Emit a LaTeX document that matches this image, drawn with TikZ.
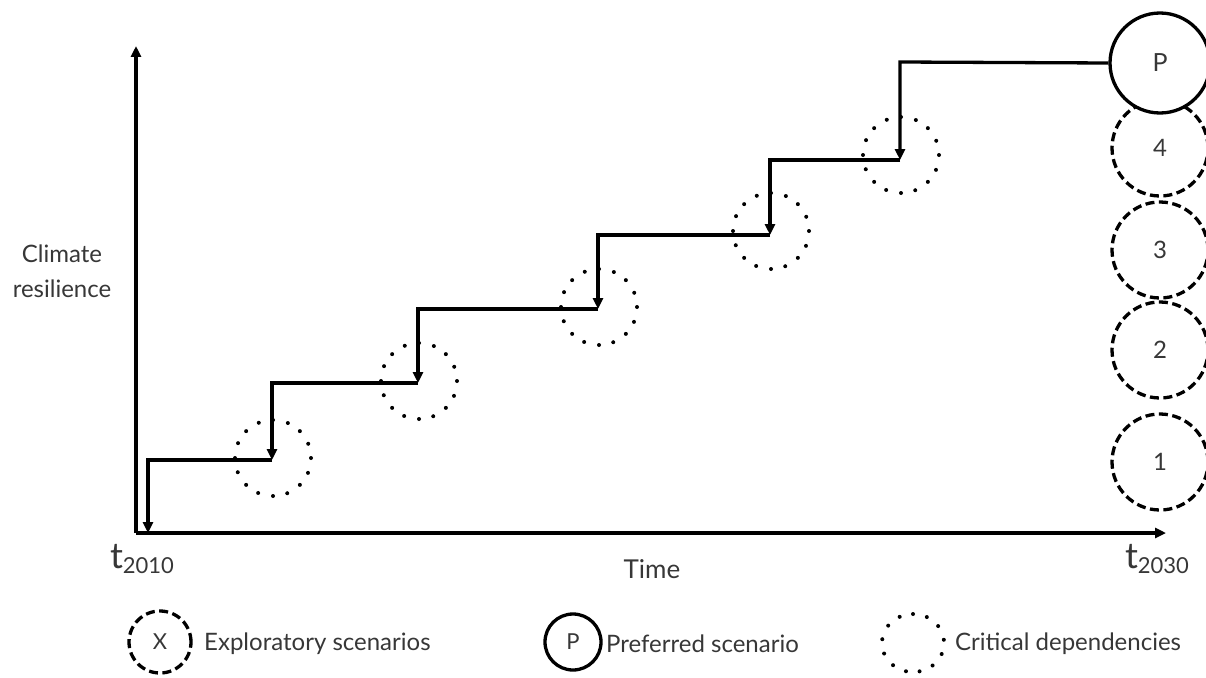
\documentclass[tikz,border=0pt]{standalone}
\usepackage{fontspec}
\setmainfont{Lato}
\usetikzlibrary{arrows.meta,shapes.geometric}
\definecolor{txt}{RGB}{55,55,55}
\begin{document}
\begin{tikzpicture}[x=1pt,y=-1pt,
  tip/.tip={Triangle[length=11pt,width=10pt]},
  axisline/.style={line width=3.6pt,-tip},
  stairline/.style={line width=3.3pt,line join=miter,-tip},
  lbl/.style={text=txt,font=\fontsize{24}{35}\selectfont,inner sep=0pt},
  scen/.style={circle,draw,line width=3.3pt,dash pattern=on 9pt off 4.5pt,
    minimum size=96pt,inner sep=0pt,text=txt,font=\fontsize{24}{24}\selectfont},
  pref/.style={circle,draw,line width=3.3pt,minimum size=100pt,inner sep=0pt,
    text=txt,font=\fontsize{25}{25}\selectfont},
  crit/.style={circle,minimum size=76pt,inner sep=0pt,outer sep=0pt},
  dotr/.style={fill=black}]
\useasboundingbox (0,0) rectangle (1206,677);

% axes
\coordinate (o) at (136,533);
\coordinate (ytop) at (136,46);
\coordinate (xend) at (1166,533);
\draw[axisline] (o) -- (ytop);
\draw[axisline] (o) -- (xend);

% scenario circles on the right
\node[scen] (s1) at (1160,462) {1};
\node[scen] (s2) at (1160,350) {2};
\node[scen] (s3) at (1160,250) {3};
\node[scen] (s4) at (1160,148) {4};
\node[pref,fill=white] (p) at (1160,63) {P};

% staircase corners
\coordinate (c0) at (148,533);
\coordinate (a1) at (148,460); \coordinate (b1) at (272,460);
\coordinate (a2) at (272,383); \coordinate (b2) at (418,383);
\coordinate (a3) at (418,309); \coordinate (b3) at (598,309);
\coordinate (a4) at (598,235); \coordinate (b4) at (770,235);
\coordinate (a5) at (770,160); \coordinate (b5) at (900,160);
\coordinate (a6) at (900,62);

% critical dependencies around the step corners
\node[crit] (d1) at (273,458) {};
\node[crit] (d2) at (419,381) {};
\node[crit] (d3) at (599,307) {};
\node[crit] (d4) at (771,231) {};
\node[crit] (d5) at (901,155) {};
\foreach \d in {d1,d2,d3,d4,d5}
  \foreach \a in {0,22.5,...,337.5}
    \fill[dotr] (\d.\a) circle[radius=2pt];

% staircase
\draw[stairline] (b1) -- (a1) -- (c0);
\draw[stairline] (b2) -- (a2) -- (b1);
\draw[stairline] (b3) -- (a3) -- (b2);
\draw[stairline] (b4) -- (a4) -- (b3);
\draw[stairline] (b5) -- (a5) -- (b4);
\draw[stairline] (p.west) -- (a6) -- (b5);

% axis labels
\node[lbl,align=center,anchor=base] (ylab) at (62,297) {Climate\\resilience};
\node[lbl,anchor=base,font=\fontsize{26}{26}\selectfont] (time) at (652,578) {Time};
\node[text=txt,inner sep=0pt,anchor=base] (t0) at (142,568)
  {{\fontsize{36}{36}\selectfont t}\raisebox{-5pt}{\fontsize{22}{22}\selectfont 2010}};
\node[text=txt,inner sep=0pt,anchor=base] (t1) at (1157,568)
  {{\fontsize{36}{36}\selectfont t}\raisebox{-5pt}{\fontsize{22}{22}\selectfont 2030}};

% legend
\node[scen,minimum size=62pt,font=\fontsize{22}{22}\selectfont] (lx) at (160,642) {X};
\node[lbl,anchor=west] (lxt) at (204,644) {Exploratory scenarios};
\node[pref,minimum size=56pt,font=\fontsize{22}{22}\selectfont] (lp) at (573,642) {P};
\node[lbl,anchor=west] (lpt) at (606,644) {Preferred scenario};
\node[ellipse,minimum width=62pt,minimum height=58pt,inner sep=0pt,outer sep=0pt] (ld) at (913,643) {};
\foreach \k in {0,...,12}
  \fill[dotr] (ld.{90+\k*360/13}) circle[radius=2pt];
\node[lbl,anchor=west] (ldt) at (955,644) {Critical dependencies};
\end{tikzpicture}
\end{document}
